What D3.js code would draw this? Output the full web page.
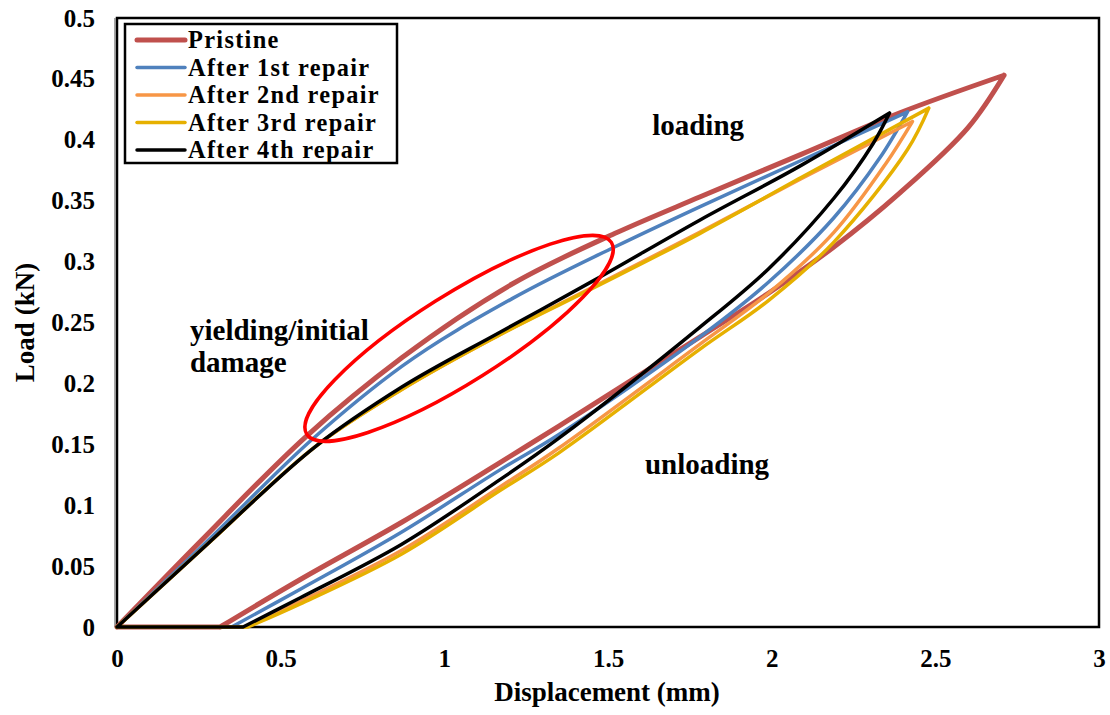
<!DOCTYPE html>
<html>
<head>
<meta charset="utf-8">
<script src="https://cdn.jsdelivr.net/npm/d3@7"></script>
<style>
  body { margin: 0; background: #fff; }
  text { font-family: "Liberation Serif", "Times New Roman", serif; font-weight: bold; fill: #000; }
</style>
</head>
<body>
<div id="chart"></div>
<script>
// series names and colours
var seriesNames = ["Pristine", "After 1st repair", "After 2nd repair", "After 3rd repair", "After 4th repair"];
var seriesColors = ["#C0504D", "#4F81BD", "#F79646", "#E6B000", "#000000"];

// [displacement (mm), load (kN)], loading branch
var pristineLoading = [[0,0],[0.25,0.069],[0.58,0.157],[0.87,0.221],[1.21,0.282],[1.52,0.323],[1.78,0.353],[2.09,0.388],[2.39,0.422],[2.71,0.453]];
var repair1Loading  = [[0,0],[0.27,0.069],[0.6,0.155],[0.87,0.214],[1.21,0.27],[1.52,0.312],[1.78,0.345],[2.09,0.383],[2.415,0.423]];
var repair2Loading  = [[0,0],[0.28,0.069],[0.61,0.149],[0.87,0.195],[1.17,0.24],[1.46,0.28],[1.78,0.324],[2.09,0.368],[2.43,0.415]];
var repair3Loading  = [[0,0],[0.28,0.069],[0.61,0.149],[0.87,0.195],[1.17,0.24],[1.46,0.279],[1.78,0.323],[2.09,0.369],[2.48,0.426]];
var repair4Loading  = [[0,0],[0.28,0.069],[0.61,0.149],[0.87,0.197],[1.17,0.242],[1.46,0.285],[1.78,0.334],[2.09,0.379],[2.36,0.422]];

// unloading branch, listed from the origin through the residual displacement up to the peak
var pristineUnloading = [[0,0],[0.315,0],[0.56,0.039],[0.87,0.086],[1.17,0.135],[1.35,0.165],[1.78,0.238],[1.99,0.274],[2.19,0.312],[2.39,0.356],[2.6,0.41],[2.71,0.453]];
var repair1Unloading  = [[0,0],[0.35,0],[0.56,0.031],[0.87,0.078],[1.17,0.129],[1.35,0.158],[1.78,0.238],[1.99,0.283],[2.19,0.336],[2.33,0.385],[2.415,0.423]];
var repair2Unloading  = [[0,0],[0.39,0],[0.56,0.021],[0.87,0.063],[1.17,0.115],[1.35,0.147],[1.78,0.232],[1.99,0.274],[2.19,0.324],[2.35,0.381],[2.43,0.415]];
var repair3Unloading  = [[0,0],[0.40,0],[0.56,0.019],[0.87,0.060],[1.17,0.112],[1.35,0.143],[1.78,0.228],[1.99,0.268],[2.19,0.316],[2.415,0.392],[2.48,0.426]];
var repair4Unloading  = [[0,0],[0.385,0],[0.56,0.024],[0.87,0.068],[1.17,0.121],[1.35,0.155],[1.78,0.246],[1.99,0.294],[2.19,0.352],[2.31,0.397],[2.36,0.422]];

var xTicks = [0, 0.5, 1, 1.5, 2, 2.5, 3];
var xTickLabels = ["0", "0.5", "1", "1.5", "2", "2.5", "3"];
var yTicks = [0, 0.05, 0.1, 0.15, 0.2, 0.25, 0.3, 0.35, 0.4, 0.45, 0.5];
var yTickLabels = ["0", "0.05", "0.1", "0.15", "0.2", "0.25", "0.3", "0.35", "0.4", "0.45", "0.5"];

var loadingSets = [pristineLoading, repair1Loading, repair2Loading, repair3Loading, repair4Loading];
var unloadingSets = [pristineUnloading, repair1Unloading, repair2Unloading, repair3Unloading, repair4Unloading];

//Width and height
var w = 1110;
var h = 715;
var margin = {top: 18, right: 11, bottom: 88, left: 117};

var xScale = d3.scaleLinear()
               .domain([0, 3])
               .range([margin.left, w - margin.right]);

var yScale = d3.scaleLinear()
               .domain([0, 0.5])
               .range([h - margin.bottom, margin.top]);

var svg = d3.select("#chart")
            .append("svg")
            .attr("width", w)
            .attr("height", h);

//Axes (no tick marks, labels only)
var xAxis = d3.axisBottom(xScale)
              .tickValues(xTicks)
              .tickSize(0)
              .tickPadding(22)
              .tickFormat(function(d, i) { return xTickLabels[i]; });

var yAxis = d3.axisLeft(yScale)
              .tickValues(yTicks)
              .tickSize(0)
              .tickPadding(22)
              .tickFormat(function(d, i) { return yTickLabels[i]; });

var gx = svg.append("g")
   .attr("transform", "translate(0," + (h - margin.bottom) + ")")
   .call(xAxis);
var gy = svg.append("g")
   .attr("transform", "translate(" + margin.left + ",0)")
   .call(yAxis);

gx.select(".domain").remove();
gy.select(".domain").remove();
svg.selectAll(".tick text")
   .style("font-family", "'Liberation Serif', serif")
   .style("font-weight", "bold")
   .style("font-size", "25px")
   .attr("fill", "#000");

//Plot frame
svg.append("rect")
   .attr("x", margin.left)
   .attr("y", margin.top)
   .attr("width", w - margin.left - margin.right)
   .attr("height", h - margin.top - margin.bottom)
   .attr("fill", "none")
   .attr("stroke", "#000")
   .attr("stroke-width", 2.5);

svg.append("line")
   .attr("x1", margin.left - 2).attr("x2", margin.left - 2)
   .attr("y1", margin.top).attr("y2", h - margin.bottom)
   .attr("stroke", "#888").attr("stroke-width", 1.5);

//Curves
var loadLine = d3.line()
             .x(function(d) { return xScale(d[0]); })
             .y(function(d) { return yScale(d[1]); })
             .curve(d3.curveMonotoneX);

var smoothLine = d3.line()
             .x(function(d) { return xScale(d[0]); })
             .y(function(d) { return yScale(d[1]); })
             .curve(d3.curveCatmullRom.alpha(0.5));

var flatLine = d3.line()
             .x(function(d) { return xScale(d[0]); })
             .y(function(d) { return yScale(d[1]); });

for (let i = 0; i < seriesNames.length; i++) {
    var sw = i == 0 ? 5 : 3.5;
    var un = unloadingSets[i];
    // flat stretch along zero, then the rising unloading curve
    var d = loadLine(loadingSets[i]) + flatLine(un.slice(0, 2)) + smoothLine(un.slice(1));
    svg.append("path")
       .attr("d", d)
       .attr("fill", "none")
       .attr("stroke", seriesColors[i])
       .attr("stroke-width", sw)
       .attr("stroke-linecap", "round")
       .attr("stroke-linejoin", "round");
}

//Highlight ellipse round the yielding zone
var cx = xScale(1.045), cy = yScale(0.237);
svg.append("ellipse")
   .attr("cx", cx)
   .attr("cy", cy)
   .attr("rx", 180)
   .attr("ry", 44)
   .attr("transform", "rotate(-32.2," + cx + "," + cy + ")")
   .attr("fill", "none")
   .attr("stroke", "#FF0000")
   .attr("stroke-width", 3.5);

//Annotations
function note(txt, dx, dy) {
    svg.append("text")
       .attr("x", xScale(dx))
       .attr("y", yScale(dy))
       .style("font-size", "29px")
       .text(txt);
}
note("loading", 1.635, 0.404);
note("unloading", 1.613, 0.126);
note("yielding/initial", 0.223, 0.236);
note("damage", 0.223, 0.209);

//Axis titles
svg.append("text")
   .attr("x", 607)
   .attr("y", 701)
   .attr("text-anchor", "middle")
   .style("font-size", "27px")
   .text("Displacement (mm)");

svg.append("text")
   .attr("transform", "translate(34," + ((margin.top + h - margin.bottom) / 2) + ") rotate(-90)")
   .attr("text-anchor", "middle")
   .style("font-size", "27px")
   .text("Load (kN)");

//Legend
var legend = svg.append("g").attr("transform", "translate(125,24)");
legend.append("rect")
      .attr("width", 272)
      .attr("height", 139)
      .attr("fill", "#fff")
      .attr("stroke", "#000")
      .attr("stroke-width", 2.5);

seriesNames.forEach(function(name, i) {
    var ly = 16 + i * 27.5;
    legend.append("line")
          .attr("x1", 12).attr("x2", 60)
          .attr("y1", ly).attr("y2", ly)
          .attr("stroke", seriesColors[i])
          .attr("stroke-width", i == 0 ? 5 : 3.5)
          .attr("stroke-linecap", "round");
    legend.append("text")
          .attr("x", 63)
          .attr("y", ly + 8)
          .style("font-size", "24.4px")
          .style("letter-spacing", "1.3px")
          .text(name);
});
</script>
</body>
</html>
